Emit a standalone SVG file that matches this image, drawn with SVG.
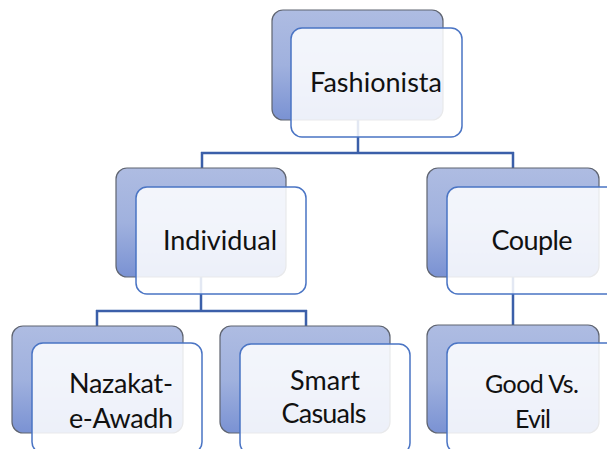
<svg xmlns="http://www.w3.org/2000/svg" width="607" height="449" viewBox="0 0 607 449">
<defs>
<linearGradient id="bg" x1="0" y1="0" x2="0" y2="1">
<stop offset="0" stop-color="#aebce2"/>
<stop offset="0.5" stop-color="#a0b1de"/>
<stop offset="1" stop-color="#7a92d3"/>
</linearGradient>
<style>
.back{fill:url(#bg);stroke:#5f6470;stroke-width:1.2}
.front{fill:#ffffff;fill-opacity:0.86;stroke:#4a74c4;stroke-width:1.5}
.conn{fill:none;stroke:#3b5fa9;stroke-width:2.5}
text{font-family:Lato,"Liberation Sans",sans-serif;fill:#111;text-anchor:middle;font-size:27px}
.sm{font-size:25px}
</style>
</defs>
<rect width="607" height="449" fill="#ffffff"/>
<g id="connectors">
<path class="conn" d="M358,120 V153 M201,153 H514 M202,152 V168 M513,152 V168 M201,277 V311 M96,311 H307 M97,310 V326 M306,310 V326 M513,277 V325"/>
</g>
<g id="fashionista">
<rect class="back" x="272" y="10" width="171" height="110" rx="11"/>
<rect class="front" x="291" y="28" width="171" height="109" rx="11"/>
<text x="376" y="92" textLength="132">Fashionista</text>
</g>
<g id="individual">
<rect class="back" x="116" y="168" width="170" height="109" rx="11"/>
<rect class="front" x="136" y="187" width="170" height="107" rx="11"/>
<text x="220" y="250" textLength="114">Individual</text>
</g>
<g id="couple">
<rect class="back" x="427" y="168" width="172" height="109" rx="11"/>
<rect class="front" x="447" y="187" width="172" height="107" rx="11"/>
<text x="532" y="250" textLength="81">Couple</text>
</g>
<g id="nazakat">
<rect class="back" x="12" y="326" width="171" height="107" rx="11"/>
<rect class="front" x="32" y="343" width="170" height="110" rx="11"/>
<text x="121" y="393" textLength="104">Nazakat-</text>
<text x="121" y="428" textLength="104">e-Awadh</text>
</g>
<g id="smart">
<rect class="back" x="220" y="326" width="170" height="107" rx="11"/>
<rect class="front" x="240" y="344" width="170" height="110" rx="11"/>
<text x="325" y="390" textLength="70">Smart</text>
<text x="324" y="423" textLength="85">Casuals</text>
</g>
<g id="goodvsevil">
<rect class="back" x="427" y="325" width="172" height="108" rx="11"/>
<rect class="front" x="447" y="343" width="172" height="110" rx="11"/>
<text class="sm" x="532" y="393" textLength="94">Good Vs.</text>
<text class="sm" x="533" y="428" textLength="36">Evil</text>
</g>
</svg>
